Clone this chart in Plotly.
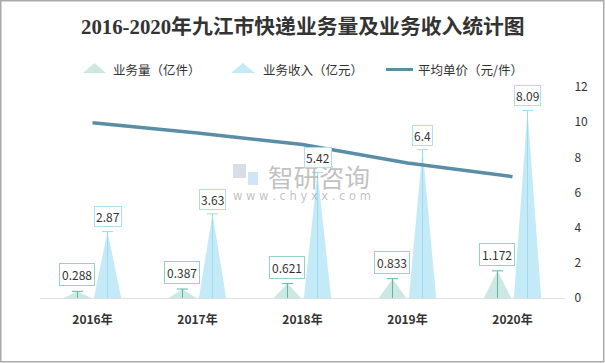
import plotly.graph_objects as go

# ---------------- data ----------------
years = ["2016年", "2017年", "2018年", "2019年", "2020年"]
volume = [0.288, 0.387, 0.621, 0.833, 1.172]      # 业务量（亿件）
revenue = [2.87, 3.63, 5.42, 6.4, 8.09]           # 业务收入（亿元）
unit_price = [9.97, 9.38, 8.73, 7.68, 6.90]       # 平均单价（元/件）
right_ticks = [0, 2, 4, 6, 8, 10, 12]

# ---------------- layout geometry ----------------
W, H = 605, 363
L, R, T, B = 40, 40, 87, 65
PW, PH = W - L - R, H - T - B
LEFT_MAX = 9.1

def px(xp):
    return (xp - L) / PW

def py(yp):
    return (H - B - yp) / PH

FONT = "Noto Sans CJK SC"
TXT = "#333333"

VOL_FILL = "#cce8e3"
VOL_LINE = "#5fb5aa"
VOL_BORDER = "#93d2c8"
REV_FILL = "#c4eaf8"
REV_LINE = "#9fdbef"
REV_BORDER = "#addff0"
PRICE_COLOR = "#5a8ea6"

OFF = 0.143     # offset of each series from category centre
HW = 0.13       # half width of triangle base

fig = go.Figure()

def triangles(values, offset, fill, name):
    xs, ys = [], []
    for i, v in enumerate(values):
        c = i + offset
        xs += [c - HW, c, c + HW, c - HW, None]
        ys += [0, v, 0, 0, None]
    fig.add_trace(go.Scatter(x=xs, y=ys, fill="toself", fillcolor=fill,
                             mode="lines", line=dict(width=0, color=fill),
                             name=name, showlegend=False, hoverinfo="skip"))

def stems(values, offset, color):
    xs, ys = [], []
    for i, v in enumerate(values):
        c = i + offset
        xs += [c, c, None]
        ys += [0, v, None]
    fig.add_trace(go.Scatter(x=xs, y=ys, mode="lines",
                             line=dict(width=1, color=color),
                             showlegend=False, hoverinfo="skip"))
    fig.add_trace(go.Scatter(x=[i + offset for i in range(len(values))], y=values,
                             mode="markers",
                             marker=dict(symbol="line-ew-open", size=8, color=color,
                                         line=dict(width=1, color=color)),
                             showlegend=False, hoverinfo="skip"))

triangles(volume, -OFF, VOL_FILL, "业务量（亿件）")
triangles(revenue, OFF, REV_FILL, "业务收入（亿元）")
stems(volume, -OFF, VOL_LINE)
stems(revenue, OFF, REV_LINE)

fig.add_trace(go.Scatter(x=list(range(len(years))), y=unit_price, yaxis="y2",
                         mode="lines", line=dict(color=PRICE_COLOR, width=3.5),
                         name="平均单价（元/件）", showlegend=False))

annotations = []

# watermark (drawn first so labels sit above it)
annotations.append(dict(x=px(319), y=py(175), xref="paper", yref="paper",
                        text="智研咨询", showarrow=False, xanchor="center", yanchor="middle",
                        font=dict(family=FONT, size=25.5, color="rgba(140,140,140,0.55)")))
annotations.append(dict(x=px(302), y=py(196), xref="paper", yref="paper",
                        text="w w w . c h y x x . c o m", showarrow=False,
                        xanchor="center", yanchor="middle",
                        font=dict(family="DejaVu Sans", size=11.5, color="rgba(150,150,150,0.6)")))

for i, v in enumerate(volume):
    annotations.append(dict(x=i - OFF, y=v, xref="x", yref="y", text=f"{v:g}",
                            showarrow=False, yanchor="bottom", yshift=5,
                            font=dict(family=FONT, size=12, color=TXT),
                            bgcolor="white", bordercolor=VOL_BORDER,
                            borderwidth=1, borderpad=2))
for i, v in enumerate(revenue):
    annotations.append(dict(x=i + OFF, y=v, xref="x", yref="y", text=f"{v:g}",
                            showarrow=False, yanchor="bottom", yshift=4,
                            font=dict(family=FONT, size=12, color=TXT),
                            bgcolor="white", bordercolor=REV_BORDER,
                            borderwidth=1, borderpad=1))

# title
annotations.append(dict(x=px(303), y=py(27), xref="paper", yref="paper",
                        text="<b>2016-2020年九江市快递业务量及业务收入统计图</b>",
                        showarrow=False, xanchor="center", yanchor="middle",
                        font=dict(family="Liberation Serif, Noto Sans CJK SC",
                                  size=20.8, color=TXT)))

# legend texts
legend_items = [("业务量（亿件）", 111), ("业务收入（亿元）", 261), ("平均单价（元/件）", 416)]
for txt, x0 in legend_items:
    annotations.append(dict(x=px(x0), y=py(69.5), xref="paper", yref="paper",
                            text=txt, showarrow=False, xanchor="left", yanchor="middle",
                            font=dict(family=FONT, size=12.5, color=TXT)))

shapes = []
# legend icons
def tri_icon(x0, x1, ytop, ybot, color):
    xm = (x0 + x1) / 2
    return dict(type="path", xref="paper", yref="paper",
                path=f"M {px(x0)} {py(ybot)} L {px(xm)} {py(ytop)} L {px(x1)} {py(ybot)} Z",
                fillcolor=color, line=dict(width=0))

shapes.append(tri_icon(83, 106, 63, 73, VOL_FILL))
shapes.append(tri_icon(231, 255, 63, 73, REV_FILL))
shapes.append(dict(type="line", xref="paper", yref="paper",
                   x0=px(386), x1=px(413), y0=py(69.5), y1=py(69.5),
                   line=dict(color=PRICE_COLOR, width=3)))

# watermark logo (approximate)
shapes.append(dict(type="rect", xref="paper", yref="paper",
                   x0=px(233), x1=px(246), y0=py(178), y1=py(164),
                   fillcolor="rgba(170,180,205,0.45)", line=dict(width=0)))
shapes.append(dict(type="rect", xref="paper", yref="paper",
                   x0=px(248), x1=px(258), y0=py(185), y1=py(172),
                   fillcolor="rgba(150,200,235,0.45)", line=dict(width=0)))

# outer border
shapes.append(dict(type="rect", xref="paper", yref="paper",
                   x0=px(0.75), x1=px(W - 1.25), y0=py(0.75), y1=py(H - 1.25),
                   line=dict(color="#aaaaaa", width=1.5), fillcolor="rgba(0,0,0,0)"))

fig.update_layout(
    width=W, height=H,
    margin=dict(l=L, r=R, t=T, b=B),
    paper_bgcolor="white", plot_bgcolor="white",
    showlegend=False,
    xaxis=dict(range=[-0.5, len(years) - 0.5], tickmode="array",
               tickvals=list(range(len(years))), ticktext=[f"<b>{y}</b>" for y in years],
               showgrid=False, zeroline=False, showline=True, linecolor="#dddddd",
               linewidth=1, ticks="outside", ticklen=11, tickcolor="rgba(0,0,0,0)",
               tickfont=dict(family=FONT, size=12, color=TXT), fixedrange=True),
    yaxis=dict(range=[0, LEFT_MAX], visible=False, showgrid=False, zeroline=False),
    yaxis2=dict(range=[0, 12], overlaying="y", side="right", tickmode="array",
                tickvals=right_ticks, showgrid=False, zeroline=False, showline=False,
                ticks="outside", ticklen=6, tickcolor="rgba(0,0,0,0)",
                tickfont=dict(family=FONT, size=12, color=TXT)),
    annotations=annotations,
    shapes=shapes,
)

fig.write_html("out.html", config={"displayModeBar": False},
               post_script="document.body.style.margin='0';document.body.style.overflow='hidden';")
